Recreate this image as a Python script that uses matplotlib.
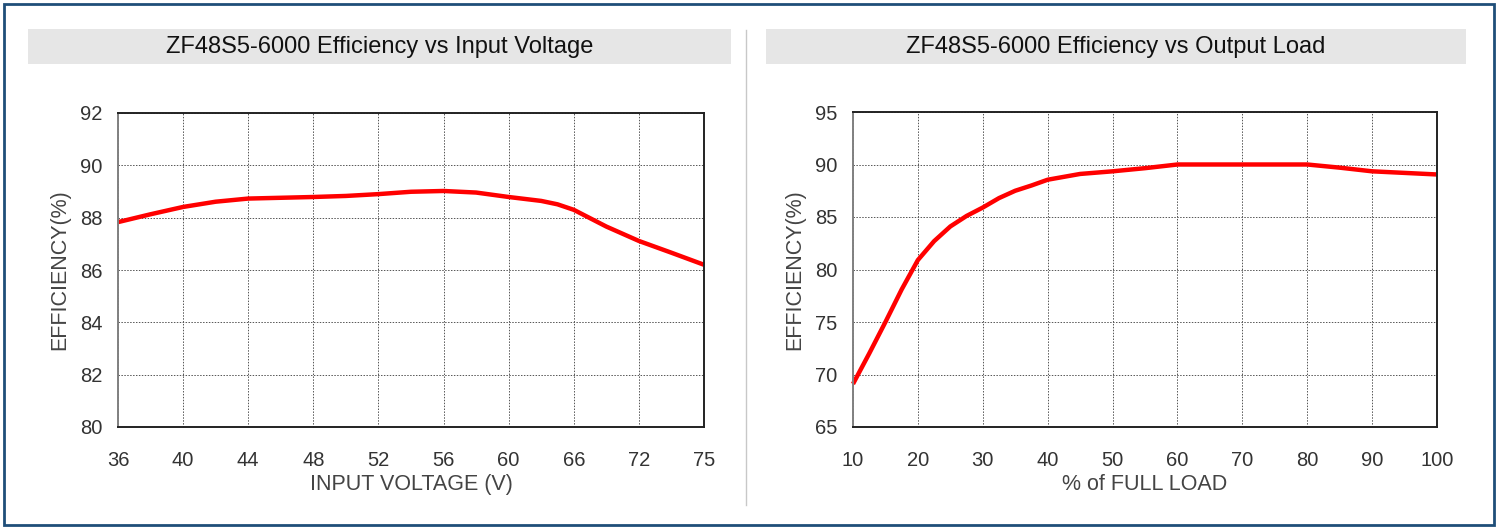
import matplotlib
matplotlib.use("Agg")
import numpy as np
import matplotlib.pyplot as plt
from matplotlib.patches import Rectangle
from matplotlib.lines import Line2D

# datos
voltaje_ticks = [36, 40, 44, 48, 52, 56, 60, 66, 72, 75]
voltaje = [36, 38, 40, 42, 44, 46, 48, 50, 52, 54, 56, 58, 60, 63, 64.5, 66, 69, 72, 73.5, 75]
eficiencia_voltaje = [87.83, 88.13, 88.41, 88.61, 88.73, 88.76, 88.79, 88.83, 88.9, 88.99,
                      89.02, 88.96, 88.79, 88.64, 88.51, 88.3, 87.66, 87.11, 86.66, 86.2]

carga = [10, 12.5, 15, 17.5, 20, 22.5, 25, 27.5, 30, 32.5, 35, 37.5, 40, 45, 50, 55,
         60, 70, 80, 85, 90, 100]
eficiencia_carga = [69.1, 72.0, 75.0, 78.1, 80.9, 82.7, 84.1, 85.1, 85.9, 86.8, 87.5, 88.0,
                    88.55, 89.1, 89.35, 89.65, 90.0, 90.0, 90.0, 89.7, 89.35, 89.05]

titulo_izq = "ZF48S5-6000 Efficiency vs Input Voltage"
titulo_der = "ZF48S5-6000 Efficiency vs Output Load"

fuente = ["Liberation Sans", "DejaVu Sans"]
gris_txt = "#333333"
rojo = "#ff0000"

fig = plt.figure(figsize=(14.99, 5.29), dpi=100)
W, H = 1499, 529

def fx(px):
    return px / W

def fy(py):
    return 1 - py / H

# marco azul y division
fig.patches.append(Rectangle((fx(4), fy(525)), fx(1490), 521 / H, transform=fig.transFigure,
                             fill=False, edgecolor="#1f4e79", linewidth=2))
fig.lines.append(Line2D([fx(746), fx(746)], [fy(30), fy(505)], transform=fig.transFigure,
                        color="#c8c8c8", linewidth=1))

# bandas de titulo
for x0, x1, t in [(28, 731, titulo_izq), (766, 1466, titulo_der)]:
    fig.patches.append(Rectangle((fx(x0), fy(64)), fx(x1 - x0), 35 / H, transform=fig.transFigure,
                                 facecolor="#e6e6e6", edgecolor="none"))
    fig.text(fx((x0 + x1) / 2), fy(46.5), t, ha="center", va="center", fontsize=17,
             family=fuente, color="#111111")


def estilo(ax):
    ax.grid(True, linestyle=(0, (1.5, 1.5)), color="#555555", linewidth=0.7)
    ax.tick_params(length=0, labelsize=14.5, colors=gris_txt)
    ax.tick_params(axis="x", pad=17)
    ax.tick_params(axis="y", pad=11)
    for lab in ax.get_xticklabels() + ax.get_yticklabels():
        lab.set_family(fuente)
    ax.spines["left"].set_color("#808080")
    ax.spines["left"].set_linewidth(1.4)
    for s in ["top", "right", "bottom"]:
        ax.spines[s].set_color("#222222")
        ax.spines[s].set_linewidth(1.4)


# eje x no lineal: los ticks quedan equiespaciados
idx = np.arange(len(voltaje_ticks))

def adelante(v):
    return np.interp(v, voltaje_ticks, idx)

def atras(p):
    return np.interp(p, idx, voltaje_ticks)


# grafico izquierdo
ax1 = fig.add_axes([fx(118), fy(427), fx(704 - 118), (427 - 113) / H])
ax1.set_xscale("function", functions=(adelante, atras))
ax1.plot(voltaje, eficiencia_voltaje, color=rojo, linewidth=3.2, solid_joinstyle="round",
         solid_capstyle="butt", clip_on=False)
ax1.set_xlim(36, 75)
ax1.set_ylim(80, 92)
ax1.set_xticks(voltaje_ticks)
ax1.set_xticklabels([str(v) for v in voltaje_ticks])
ax1.xaxis.set_minor_locator(matplotlib.ticker.NullLocator())
ax1.set_yticks([80, 82, 84, 86, 88, 90, 92])
estilo(ax1)
ax1.set_xlabel("INPUT VOLTAGE (V)", fontsize=15.5, color="#444444", family=fuente, labelpad=3)
ax1.set_ylabel("EFFICIENCY(%)", fontsize=15.5, color="#444444", family=fuente, labelpad=7)

# grafico derecho
ax2 = fig.add_axes([fx(853), fy(427), fx(1437 - 853), (427 - 112) / H])
ax2.plot(carga, eficiencia_carga, color=rojo, linewidth=3.2, solid_joinstyle="round",
         solid_capstyle="butt", clip_on=False)
ax2.set_xlim(10, 100)
ax2.set_ylim(65, 95)
ax2.set_xticks(range(10, 101, 10))
ax2.set_yticks(range(65, 96, 5))
estilo(ax2)
ax2.set_xlabel("% of FULL LOAD", fontsize=15.5, color="#444444", family=fuente, labelpad=3)
ax2.set_ylabel("EFFICIENCY(%)", fontsize=15.5, color="#444444", family=fuente, labelpad=7)

fig.savefig("out.png", dpi=100)
